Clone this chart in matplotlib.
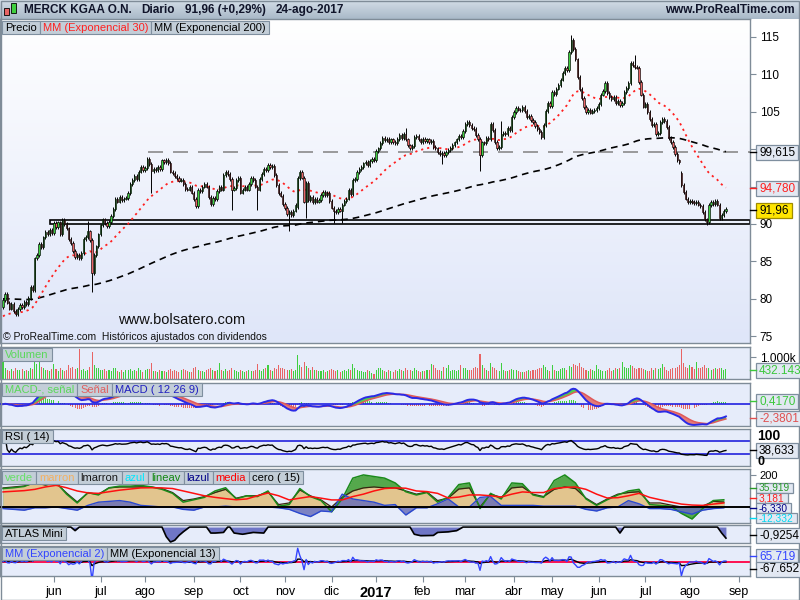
#!/usr/bin/env python3
"""out.png

MERCK KGAA daily chart (ProRealTime style) with volume, MACD, RSI,
oscillator, ATLAS Mini and EMA(2/13) panels.
"""
import numpy as np
import pandas as pd
import matplotlib
matplotlib.use("Agg")
import matplotlib.pyplot as plt
from matplotlib.patches import Rectangle
from matplotlib.colors import LinearSegmentedColormap

plt.rcParams["font.family"] = ["Liberation Sans", "DejaVu Sans"]

# ---------- data ----------
CLOSES = [
    79.8, 80.6, 79.5, 78.7, 79.3, 78.4, 77.9, 78.6, 79.2, 78.9,
    79.6, 79.3, 80.1, 81.6, 81.2, 85.4, 85.9, 87.3, 86.9, 88.2,
    88.9, 88.6, 89.2, 88.8, 90.1, 89.6, 90.2, 88.7, 90.5, 90.0,
    89.4, 88.0, 87.5, 86.4, 85.6, 85.9, 85.4, 86.1, 88.0, 88.3,
    89.0, 87.9, 83.4, 85.9, 87.0, 88.6, 89.8, 90.6, 90.1, 89.7,
    90.3, 91.1, 92.0, 93.4, 93.0, 93.6, 93.2, 93.4, 93.5, 94.1,
    95.3, 95.9, 96.4, 96.0, 97.0, 97.6, 97.2, 97.5, 98.7, 98.0,
    97.1, 97.4, 97.2, 97.6, 97.3, 98.5, 98.3, 98.6, 98.2, 97.0,
    96.8, 96.4, 96.1, 95.8, 95.9, 95.3, 94.7, 94.6, 94.9, 94.2,
    93.3, 92.4, 94.6, 94.4, 95.0, 95.3, 95.0, 93.6, 92.7, 93.5,
    93.3, 94.4, 94.9, 94.6, 96.5, 96.9, 96.7, 96.0, 94.6, 94.8,
    95.9, 96.1, 94.2, 94.6, 94.9, 94.6, 95.3, 96.1, 95.9, 95.0,
    94.6, 96.0, 96.7, 97.4, 97.2, 97.9, 97.6, 97.8, 96.5, 95.2,
    94.1, 93.8, 92.7, 92.1, 91.3, 91.6, 91.2, 91.8, 92.5, 96.1,
    96.9, 96.2, 93.0, 95.5, 93.2, 93.6, 92.9, 93.4, 93.0, 93.2,
    93.9, 94.3, 93.9, 94.2, 93.1, 92.2, 91.7, 91.6, 92.0, 91.8,
    92.6, 93.1, 93.4, 94.6, 94.0, 95.9, 96.0, 96.9, 97.3, 97.6,
    98.1, 98.3, 97.9, 98.4, 98.7, 98.5, 99.8, 100.1, 100.8, 101.5,
    101.2, 101.4, 100.9, 101.3, 101.0, 100.8, 101.4, 101.9, 101.5, 102.0,
    101.3, 100.5, 100.2, 100.4, 101.6, 101.8, 101.3, 101.0, 101.4, 101.1,
    101.3, 100.9, 101.1, 100.3, 100.1, 99.6, 99.4, 99.5, 99.2, 99.6,
    99.9, 100.2, 100.6, 100.9, 101.3, 101.8, 101.6, 102.4, 103.4, 103.6,
    103.2, 102.8, 102.7, 101.9, 101.4, 99.2, 100.9, 100.8, 101.5, 101.3,
    103.4, 102.6, 101.0, 100.1, 100.3, 102.0, 102.2, 102.0, 102.8, 102.6,
    104.3, 105.0, 105.5, 105.3, 105.2, 105.6, 105.1, 104.3, 104.5, 103.9,
    103.6, 103.1, 102.7, 102.3, 101.6, 103.2, 105.1, 106.2, 105.8, 107.6,
    107.4, 108.1, 108.6, 109.3, 110.2, 110.9, 110.6, 113.0, 114.6, 113.4,
    112.0, 109.6, 108.0, 106.8, 105.6, 105.0, 105.3, 104.9, 105.1, 105.2,
    105.5, 106.0, 107.3, 107.8, 108.9, 107.5, 107.0, 106.7, 107.0, 106.2,
    106.4, 105.9, 106.2, 107.6, 108.2, 108.8, 111.5, 111.2, 111.0, 110.9,
    109.0, 107.3, 105.7, 106.0, 105.0, 104.0, 103.2, 103.4, 102.0, 102.2,
    103.6, 104.0, 103.8, 103.0, 101.5, 101.0, 100.3, 99.4, 98.5, 98.3,
    95.2, 94.3, 93.4, 92.9, 93.1, 92.9, 92.8, 93.0, 92.6, 92.4,
    91.6, 90.6, 90.3, 92.5, 92.9, 92.7, 93.1, 92.6, 90.8, 91.2,
    91.69, 91.96,
]
FIRST_OPEN = 78.9
GAP_IDX = [139, 320]
GAP_OPEN = [92.3, 96.8]
LOW_WICK_IDX = [42, 70, 108, 120, 135, 143, 156, 160, 207, 225, 332]
LOW_WICK_VAL = [80.9, 94.1, 91.9, 91.9, 89.0, 90.8, 90.1, 90.1, 98.0, 97.1, 89.9]
HIGH_WICK_IDX = [40, 190, 235, 268, 298]
HIGH_WICK_VAL = [90.4, 102.8, 103.8, 115.3, 112.6]

VOLUMES_K = [
    780, 520, 430, 380, 450, 360, 520, 410, 390, 460,
    350, 420, 380, 510, 470, 790, 700, 760, 540, 480,
    390, 420, 370, 460, 700, 440, 380, 510, 420, 350,
    400, 620, 480, 560, 450, 520, 1350, 430, 470, 380,
    420, 560, 1240, 650, 520, 480, 410, 390, 450, 360,
    430, 380, 480, 520, 350, 330, 410, 300, 390, 420,
    460, 380, 420, 350, 480, 390, 330, 410, 440, 470,
    740, 380, 360, 300, 420, 380, 350, 330, 410, 460,
    380, 420, 350, 310, 390, 450, 420, 360, 300, 340,
    480, 560, 420, 380, 350, 330, 410, 460, 520, 390,
    360, 420, 720, 410, 380, 460, 350, 420, 480, 390,
    350, 300, 420, 380, 330, 360, 410, 380, 350, 420,
    690, 420, 380, 450, 500, 650, 420, 380, 500, 450,
    640, 480, 520, 460, 410, 390, 450, 380, 420, 1090,
    620, 540, 790, 580, 480, 430, 560, 420, 390, 350,
    380, 410, 330, 360, 420, 450, 390, 350, 410, 330,
    380, 420, 360, 450, 400, 700, 480, 420, 380, 350,
    330, 300, 410, 360, 280, 220, 420, 480, 520, 390,
    360, 340, 420, 380, 310, 420, 360, 460, 390, 350,
    480, 420, 390, 360, 500, 410, 360, 330, 380, 350,
    420, 390, 660, 640, 480, 420, 390, 360, 560, 480,
    620, 380, 420, 390, 360, 420, 640, 480, 520, 430,
    390, 420, 480, 560, 520, 1140, 620, 480, 420, 380,
    720, 560, 480, 420, 380, 740, 420, 380, 350, 410,
    460, 420, 390, 360, 300, 340, 320, 380, 420, 360,
    390, 430, 460, 480, 520, 620, 560, 420, 380, 640,
    420, 380, 360, 450, 520, 480, 420, 600, 560, 680,
    620, 580, 720, 540, 480, 420, 380, 450, 420, 380,
    620, 440, 410, 380, 350, 420, 480, 360, 410, 520,
    450, 480, 770, 560, 520, 480, 640, 600, 520, 440,
    480, 520, 460, 420, 380, 360, 480, 420, 520, 460,
    480, 700, 560, 420, 380, 460, 520, 480, 560, 620,
    1350, 720, 560, 480, 620, 540, 460, 770, 520, 480,
    560, 640, 520, 480, 420, 450, 500, 460, 520, 480,
    420, 432.143,
]

EMA30_START = 77.5
EMA200_START = 80.0
RESIST_LEVEL = 99.615
BOX_LOW, BOX_HIGH, BOX_START = 89.97, 90.55, 22.2

# oscillator panel, one reading every 5 sessions
CERO_STEP = 5
CERO_MARRON = [119, 125, 131, 150, 137, 150, 87, 31, 87, 80, 119, 125, 125, 125, 125, 115, 90, 40,
               50, 65, 90, 110, 55, 70, 70, 94, 15, 25, 106, 70, 44, 0, 60, 100, 119, 125, 119, 119,
               100, 80, 94, 40, 56, 112, 119, 0, 80, 60, 119, 125, 80, 65, 110, 125, 115, 55, 15, 50,
               80, 90, 95, 25, 25, 12, 0, 0, 5, 35, 30]
CERO_LINEAV = [115, 120, 128, 155, 140, 155, 80, 25, 90, 75, 120, 130, 130, 135, 125, 110, 85, 30,
               45, 60, 100, 120, 50, 70, 65, 100, 5, 15, 115, 65, 40, -30, 50, 180, 200, 190, 180,
               150, 95, 75, 90, 30, 60, 140, 150, -10, 85, 50, 150, 145, 75, 60, 165, 200, 150, 50,
               10, 45, 75, 100, 110, 15, 10, 5, -40, -75, -10, 40, 45]
CERO_LAZUL = [-10, -15, -20, -5, -5, 0, -10, -20, 10, 30, 35, 40, 30, 10, 5, 0, 0, -15, -20, 0, 0, 5,
              0, 0, 0, 0, -5, -15, -40, -60, -25, -30, 80, 50, 40, 30, 10, 15, -50, -5, -5, 20, 50,
              0, 0, 60, 65, 10, 10, 10, 10, 5, 5, 5, 5, -15, -25, -5, 0, 40, 20, -10, -10, -15,
              -30, -45, -20, -10, -5]
CERO_MEDIA = [94, 98, 102, 110, 125, 135, 120, 100, 88, 85, 95, 105, 112, 119, 120, 119, 115, 100,
              85, 70, 60, 52, 45, 50, 70, 87, 70, 44, 55, 65, 55, 44, 44, 65, 80, 100, 115, 119, 117,
              100, 96, 85, 56, 62, 75, 75, 70, 62, 80, 94, 90, 90, 115, 122, 125, 110, 80, 56, 58,
              70, 85, 60, 45, 31, 18, 12, 10, 18, 25]

ATLAS_IDX = [0, 32, 34, 36, 75, 77, 79, 81, 83, 85, 88, 96, 98, 100, 104, 106, 107, 109, 113, 118,
             123, 125, 192, 194, 197, 203, 205, 210, 214, 217, 289, 291, 293, 337, 339, 341]
ATLAS_VAL = [0, 0, -0.3, 0, 0, -0.8, -1.25, -1.1, -0.7, -0.4, 0, 0, -0.5, -0.5, -0.45, 0, 0, -0.5,
             -0.6, -0.45, -0.5, 0, 0, -0.6, -0.72, -0.7, -0.45, -0.4, -0.3, 0, 0, -0.5, 0, 0, -0.5,
             -0.9254]

PRICE_TICKS = [75, 80, 85, 90, 95, 100, 105, 110, 115]
PRICE_TICK_LABELS = ["75", "80", "85", "90", "", "", "105", "110", "115"]  # 95/100 sit under boxes
HEADER_ITEMS = ["MERCK KGAA O.N.", "Diario", "91,96 (+0,29%)", "24-ago-2017"]
CERO_LAST = ["35,919", "3,181", "-6,330", "-12,332"]

HOLIDAYS = ["2016-12-26", "2017-04-14", "2017-04-17", "2017-05-01"]
MONTHS_ES = ["ene", "feb", "mar", "abr", "may", "jun", "jul", "ago", "sep", "oct", "nov", "dic"]

# ---------- style ----------
W, H = 800, 600
UP, DOWN = "#3fcf3f", "#e86464"
SPINE = "#7f8c98"
PANEL_BG = "#e6ecfa"
BOX_FC, BOX_EC = "#c3ced8", "#7f8f9f"
VAL_FC, VAL_EC = "#e2e8f2", "#7f8f9f"
X_PER_DAY = 2.12
XLIM = (-3 / X_PER_DAY, (750 - 3) / X_PER_DAY)


def ema_seeded(values, n, seed):
    a = 2.0 / (n + 1)
    out, prev = [], seed
    for v in values:
        prev = prev + a * (v - prev)
        out.append(prev)
    return np.array(out)


def add_panel(fig, top, bottom, bg=PANEL_BG):
    ax = fig.add_axes([0, 1 - bottom / H, 750 / W, (bottom - top) / H])
    ax.set_facecolor(bg)
    for s in ax.spines.values():
        s.set_color(SPINE)
        s.set_linewidth(1.0)
    ax.set_xlim(*XLIM)
    ax.set_xticks([])
    ax.yaxis.tick_right()
    ax.tick_params(axis="y", length=4, color=SPINE, labelsize=8.5, pad=3)
    ax.set_yticks([])
    return ax


def box_row(fig, items, x0, top, h=13, size=8):
    r = fig.canvas.get_renderer()
    x = x0
    for txt, col in items:
        t = fig.text((x + 3) / W, 1 - (top + h / 2 + 0.5) / H, txt, color=col,
                     fontsize=size, va="center", ha="left", zorder=31)
        w = t.get_window_extent(r).width
        fig.add_artist(Rectangle((x / W, 1 - (top + h) / H), (w + 6) / W, h / H,
                                 transform=fig.transFigure, fc=BOX_FC, ec=BOX_EC,
                                 lw=0.8, zorder=30))
        x += w + 6


def value_box(fig, txt, yc, color, z, fc=VAL_FC, ec=VAL_EC, h=15, size=8.5):
    r = fig.canvas.get_renderer()
    t = fig.text(759 / W, 1 - (yc + 0.5) / H, txt, color=color, fontsize=size,
                 va="center", ha="left", zorder=z + 1)
    w = t.get_window_extent(r).width
    fig.add_artist(Rectangle((756 / W, 1 - (yc + h / 2) / H), (w + 6) / W, h / H,
                             transform=fig.transFigure, fc=fc, ec=ec, lw=0.9, zorder=z))
    fig.add_artist(plt.Line2D([750 / W, 756 / W], [1 - yc / H] * 2,
                              transform=fig.transFigure, color=color, lw=1.0, zorder=z))


def main():
    close = np.array(CLOSES)
    n = len(close)
    idx = np.arange(n)
    vol = np.array(VOLUMES_K)

    opens = np.r_[FIRST_OPEN, close[:-1]]
    for i, o in zip(GAP_IDX, GAP_OPEN):
        opens[i] = o
    body_hi = np.maximum(opens, close)
    body_lo = np.minimum(opens, close)
    highs = body_hi + 0.25
    lows = body_lo - 0.25
    for i, v in zip(LOW_WICK_IDX, LOW_WICK_VAL):
        lows[i] = v
    for i, v in zip(HIGH_WICK_IDX, HIGH_WICK_VAL):
        highs[i] = v
    up = close >= opens

    # dates -> month ticks
    days = pd.bdate_range("2016-04-28", "2017-08-24")
    days = days[~days.isin(pd.to_datetime(HOLIDAYS))][-n:]
    per = days.to_period("M")
    first = np.r_[True, per[1:] != per[:-1]]
    tick_pos, tick_lab = [], []
    for i in np.nonzero(first)[0]:
        if i < 10:
            continue
        d = days[i]
        tick_pos.append(i)
        tick_lab.append(str(d.year) if d.month == 1 else MONTHS_ES[d.month - 1])
    tick_pos.append(n - 1 + 6)
    tick_lab.append("sep")

    # indicators
    s = pd.Series(close)
    ema30 = ema_seeded(close, 30, EMA30_START)
    ema200 = ema_seeded(close, 200, EMA200_START)
    macd = (s.ewm(span=12, adjust=False).mean() - s.ewm(span=26, adjust=False).mean()).values
    signal = pd.Series(macd).ewm(span=9, adjust=False).mean().values
    hist = macd - signal
    d = s.diff()
    gain = d.clip(lower=0).ewm(alpha=1 / 14, adjust=True).mean()
    loss = (-d.clip(upper=0)).ewm(alpha=1 / 14, adjust=True).mean()
    rsi = (100 - 100 / (1 + gain / loss)).values
    flow = (s.diff().fillna(0) * pd.Series(vol))
    mm2 = flow.ewm(span=2, adjust=False).mean().values
    mm13 = flow.ewm(span=13, adjust=False).mean().values

    fig = plt.figure(figsize=(8, 6), dpi=100)
    r = fig.canvas.get_renderer()

    # ---------- header ----------
    hax = fig.add_axes([0, 1 - 19 / H, 1, 19 / H])
    hax.imshow(np.linspace(0, 1, 64).reshape(-1, 1), aspect="auto",
               cmap=LinearSegmentedColormap.from_list("h", ["#d3dde7", "#a9b9c8"]),
               extent=[0, 1, 0, 1])
    hax.set_xlim(0, 1)
    hax.set_ylim(0, 1)
    hax.axis("off")
    x = 24
    for txt in HEADER_ITEMS:
        t = fig.text(x / W, 1 - 10 / H, txt, fontsize=8.5, fontweight="bold",
                     color="#10142a", va="center", ha="left")
        x += t.get_window_extent(r).width + 10
    fig.text(795 / W, 1 - 10 / H, "www.ProRealTime.com", fontsize=8.5,
             fontweight="bold", color="#10142a", va="center", ha="right")
    for x0, y0, y1, c in [(4, 8, 15, DOWN), (11, 3, 13, UP)]:
        fig.add_artist(Rectangle((x0 / W, 1 - y1 / H), 5 / W, (y1 - y0) / H,
                                 transform=fig.transFigure, fc=c, ec="black",
                                 lw=0.6, zorder=5))

    # ---------- price ----------
    ax = add_panel(fig, 19, 343)
    ax.imshow(np.linspace(0, 1, 256).reshape(-1, 1), aspect="auto", zorder=0,
              cmap=LinearSegmentedColormap.from_list("p", ["#ffffff", "#dfe6f9"]),
              extent=[0, 1, 0, 1], transform=ax.transAxes)
    ax.set_xlim(*XLIM)
    ax.set_ylim(74.09, 117.4)
    ax.set_yticks(PRICE_TICKS)
    ax.set_yticklabels(PRICE_TICK_LABELS)
    ax.hlines(RESIST_LEVEL, 68.4, XLIM[1], colors="#8a8a8a", lw=1.2,
              linestyles=(0, (9, 6)), zorder=1)
    ax.add_patch(Rectangle((BOX_START, BOX_LOW), XLIM[1] - BOX_START, BOX_HIGH - BOX_LOW,
                           fill=False, ec="black", lw=1.2, zorder=2))
    ax.plot(idx, ema200, color="black", lw=1.2, ls=(0, (4, 3)), zorder=2)
    ax.plot(idx, ema30, color="#ff2020", lw=1.3, ls=(0, (1.2, 2.2)), zorder=2)
    ax.vlines(idx, lows, highs, color="black", lw=0.7, zorder=3)
    ax.bar(idx, np.maximum(body_hi - body_lo, 0.06), bottom=body_lo, width=0.62,
           color=np.where(up, UP, DOWN), edgecolor="black", lw=0.45, zorder=4)
    ax.text(118 / 750, (343 - 320) / 324, "www.bolsatero.com", transform=ax.transAxes,
            fontsize=10.5, color="#111111", va="center", ha="left")
    ax.text(3 / 750, (343 - 337) / 324,
            "© ProRealTime.com  Históricos ajustados con dividendos",
            transform=ax.transAxes, fontsize=7.5, color="#111111", va="center", ha="left")

    # ---------- volume ----------
    axv = add_panel(fig, 347, 379)
    axv.bar(idx, vol, width=0.5, color=np.where(up, UP, DOWN), lw=0)
    axv.set_ylim(0, 1455)
    axv.set_yticks([1000])
    axv.set_yticklabels(["1.000k"])

    # ---------- MACD ----------
    axm = add_panel(fig, 383, 426)
    axm.set_ylim(-3.6, 3.5)
    axm.bar(idx, hist, width=0.45, color=np.where(hist >= 0, UP, DOWN), lw=0, zorder=2)
    axm.axhline(0, color="#2020e0", lw=1.2, zorder=3)
    axm.fill_between(idx, macd, signal, where=macd >= signal, interpolate=True,
                     color="#4fcf4f", lw=0, zorder=3)
    axm.fill_between(idx, macd, signal, where=macd < signal, interpolate=True,
                     color="#e47a7a", lw=0, zorder=3)
    axm.plot(idx, signal, color="#e05a5a", lw=1.1, zorder=4)
    axm.plot(idx, macd, color="#2a2ae6", lw=1.4, zorder=5)

    # ---------- RSI ----------
    axr = add_panel(fig, 429, 466)
    axr.set_ylim(-35, 135)
    axr.fill_between(idx, rsi, 80, where=rsi > 80, interpolate=True, color="#e89090", lw=0)
    axr.fill_between(idx, rsi, 20, where=rsi < 20, interpolate=True, color="#7cc47c", lw=0)
    axr.axhline(80, color="#2222dd", lw=1.2)
    axr.axhline(20, color="#2222dd", lw=1.2)
    axr.plot(idx, rsi, color="black", lw=1.0)

    # ---------- oscillator ----------
    axc = add_panel(fig, 469, 523)
    axc.set_ylim(-100, 237)
    cx = np.arange(len(CERO_MARRON)) * CERO_STEP
    marron = np.array(CERO_MARRON, float)
    lineav = np.array(CERO_LINEAV, float)
    lazul = np.array(CERO_LAZUL, float)
    axc.fill_between(cx, 0, lineav, color="#55a84c", lw=0, zorder=1)
    axc.fill_between(cx, 0, marron, color="#e2c58e", lw=0, zorder=2)
    axc.fill_between(cx, 0, lazul, color="#6a70b8", alpha=0.85, lw=0, zorder=3)
    axc.plot(cx, marron, color="#3a2410", lw=0.9, zorder=4)
    axc.plot(cx, lineav, color="#1a8a1a", lw=1.1, zorder=5)
    axc.plot(cx, lazul, color="#2a48d0", lw=1.0, zorder=5)
    axc.plot(cx, CERO_MEDIA, color="#ff1010", lw=1.1, zorder=6)
    axc.axhline(0, color="black", lw=1.4, zorder=6)
    axc.set_yticks([200])
    axc.tick_params(axis="y", labelsize=8)

    # ---------- ATLAS Mini ----------
    axa = add_panel(fig, 525, 543)
    axa.set_ylim(-1.33, 0.17)
    axa.fill_between(ATLAS_IDX, 0, ATLAS_VAL, color="#6f76c6", lw=0)
    axa.plot(ATLAS_IDX, ATLAS_VAL, color="black", lw=1.2)

    # ---------- EMA 2 / 13 ----------
    axe = add_panel(fig, 546, 576)
    m = np.nanmax(mm2)
    axe.set_ylim(-1.08 * m, 1.17 * m)
    axe.axhline(0, color="#ff0044", lw=1.3, zorder=1)
    axe.plot(idx, mm13, color="black", lw=1.0, zorder=2)
    axe.plot(idx, mm2, color="#3344ff", lw=1.0, zorder=3)
    axe.set_xticks(tick_pos)
    axe.set_xticklabels(tick_lab)
    axe.tick_params(axis="x", length=4, color=SPINE, labelsize=9, pad=3)
    for lab in axe.get_xticklabels():
        if lab.get_text().isdigit():
            lab.set_fontweight("bold")
            lab.set_fontsize(10.5)

    # ---------- legend rows ----------
    box_row(fig, [("Precio", "black"), ("MM (Exponencial 30)", "#ff2020"),
                  ("MM (Exponencial 200)", "black")], 2, 21)
    box_row(fig, [("Volumen", "#5ad85a")], 2, 348)
    box_row(fig, [("MACD-, señal", "#5ad85a"), ("Señal", "#e06060"),
                  ("MACD ( 12 26 9)", "#2020c0")], 2, 383)
    box_row(fig, [("RSI ( 14)", "black")], 2, 430)
    box_row(fig, [("verde", "#66e066"), ("marron", "#f4b060"), ("lmarron", "#1a1a1a"),
                  ("azul", "#00e8ff"), ("lineav", "#118811"), ("lazul", "#000088"),
                  ("media", "#ff0000"), ("cero ( 15)", "black")], 2, 471)
    box_row(fig, [("ATLAS Mini", "black")], 2, 527)
    box_row(fig, [("MM (Exponencial 2)", "#3344ff"), ("MM (Exponencial 13)", "black")], 2, 547)

    # ---------- right-hand value boxes ----------
    value_box(fig, "99,615", 152, "black", 40)
    value_box(fig, "94,780", 188, "#ff2020", 40)
    value_box(fig, "91,96", 210, "black", 40, fc="#ffe500", ec="#a08c00")
    value_box(fig, "432.143", 370, "#3cc83c", 40)
    value_box(fig, "0,4170", 401, "#3cc83c", 40)
    value_box(fig, "-2,3801", 418, "#e05050", 40)
    fig.text(757 / W, 1 - 436 / H, "100", fontsize=10, fontweight="bold", va="center")
    fig.text(757 / W, 1 - 462 / H, "0", fontsize=9, fontweight="bold", va="center", zorder=50)
    value_box(fig, "38,633", 450, "black", 40)
    for k, (txt, col) in enumerate(zip(CERO_LAST, ["#2a9a2a", "#ff2020", "#000088", "#00d8f0"])):
        value_box(fig, txt, 487.5 + 10.1 * k, col, 40 + 2 * k, h=10, size=7.3)
    value_box(fig, "-0,9254", 535, "black", 40)
    value_box(fig, "65.719", 556, "#3344ff", 40)
    value_box(fig, "-67.652", 569, "black", 42)

    # outer frame
    fig.add_artist(Rectangle((0.5 / W, 0.5 / H), 798.5 / W, 598.5 / H,
                             transform=fig.transFigure, fill=False, ec=SPINE, lw=1.0))

    fig.savefig("out.png", dpi=100)


if __name__ == "__main__":
    main()
